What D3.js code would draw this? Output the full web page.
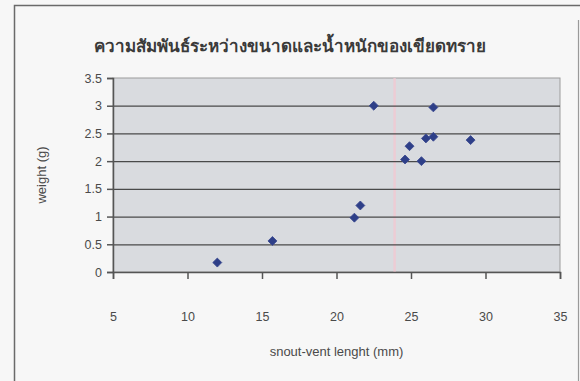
<!DOCTYPE html>
<html>
<head>
<meta charset="utf-8">
<script src="https://cdn.jsdelivr.net/npm/d3@7"></script>
<style>
html,body{margin:0;padding:0;background:#f7f7f7;}
svg{display:block;}
</style>
</head>
<body>
<svg id="chart" width="580" height="381"></svg>
<script>
const title = "ความสัมพันธ์ระหว่างขนาดและน้ำหนักของเขียดทราย";
const xLabel = "snout-vent lenght (mm)";
const yLabel = "weight (g)";
const xTicks = [5, 10, 15, 20, 25, 30, 35];
const yTicks = [0, 0.5, 1, 1.5, 2, 2.5, 3, 3.5];
const svl = [12.0, 15.7, 21.2, 21.6, 22.5, 24.6, 24.9, 25.7, 26.0, 26.5, 26.5, 29.0];
const weight = [0.17, 0.56, 0.98, 1.20, 3.0, 2.03, 2.27, 2.0, 2.41, 2.44, 2.97, 2.38];

const svg = d3.select("#chart");
const W = 580, H = 381;
const m = {left: 113, right: 20, top: 78, bottom: 109};
const x = d3.scaleLinear().domain([5, 35]).range([m.left, W - m.right]);
const y = d3.scaleLinear().domain([0, 3.5]).range([H - m.bottom, m.top]);

// outer frame
svg.append("rect").attr("x", 0).attr("y", 0).attr("width", W).attr("height", H).attr("fill", "#f7f7f7");
svg.append("path")
  .attr("d", `M14.5,${H}V5.5H${W}`)
  .attr("fill", "none").attr("stroke", "#6a6a6a").attr("stroke-width", 1.5);
svg.append("path")
  .attr("d", `M578.5,20V${H}`)
  .attr("fill", "none").attr("stroke", "#9a9a9a").attr("stroke-width", 1.2);

// plot area
svg.append("rect")
  .attr("x", x(5)).attr("y", y(3.5))
  .attr("width", x(35) - x(5)).attr("height", y(0) - y(3.5))
  .attr("fill", "#d9dbdf").attr("stroke", "#9c9c9c").attr("stroke-width", 1);

// scan artifact line
svg.append("line")
  .attr("x1", x(23.9)).attr("x2", x(23.9))
  .attr("y1", y(3.5)).attr("y2", y(0))
  .attr("stroke", "#f2c9d2").attr("stroke-width", 2.5).attr("opacity", 0.8);

// grid
svg.append("g").selectAll("line").data(yTicks.filter(d => d > 0 && d < 3.5)).join("line")
  .attr("x1", x(5)).attr("x2", x(35))
  .attr("y1", d => y(d) + 0.5).attr("y2", d => y(d) + 0.5)
  .attr("stroke", "#4a4a4a").attr("stroke-width", 1.3);

// axes
const yAxis = d3.axisLeft(y).tickValues(yTicks).tickSize(6).tickPadding(5).tickFormat(d3.format("~g"));
const gy = svg.append("g").attr("transform", `translate(${x(5)},0)`).call(yAxis);
const xAxis = d3.axisBottom(x).tickValues(xTicks).tickSize(7).tickPadding(33).tickFormat(d3.format("~g"));
const gx = svg.append("g").attr("transform", `translate(0,${y(0)})`).call(xAxis);
[gx, gy].forEach(g => {
  g.select(".domain").attr("stroke", "#555").attr("stroke-width", 1.5);
  g.selectAll(".tick line").attr("stroke", "#555").attr("stroke-width", 1.5);
  g.selectAll(".tick text").attr("fill", "#4a4a4a")
    .style("font-family", "'Liberation Sans', Arial, sans-serif").style("font-size", "12.5px");
});

// points (square rotated 45° = Excel diamond)
const diamond = d3.symbol().type(d3.symbolSquare).size(40);
svg.append("g").selectAll("path").data(svl.map((v, i) => [v, weight[i]])).join("path")
  .attr("transform", d => `translate(${x(d[0])},${y(d[1])}) rotate(45)`)
  .attr("d", diamond)
  .attr("fill", "#2e3f88").attr("stroke", "#3a4890").attr("stroke-width", 0.8);

// texts
svg.append("text").attr("x", 290).attr("y", 52).attr("text-anchor", "middle")
  .attr("fill", "#3a3a3a")
  .style("font-family", "'Noto Sans', 'DejaVu Sans', sans-serif").style("font-size", "17px").style("font-weight", "bold")
  .text(title);
svg.append("text").attr("x", (x(5) + x(35)) / 2).attr("y", 356).attr("text-anchor", "middle")
  .attr("fill", "#4a4a4a")
  .style("font-family", "'Liberation Sans', Arial, sans-serif").style("font-size", "13px")
  .text(xLabel);
svg.append("text").attr("transform", `translate(46,${(y(0) + y(3.5)) / 2}) rotate(-90)`)
  .attr("text-anchor", "middle").attr("fill", "#4a4a4a")
  .style("font-family", "'Liberation Sans', Arial, sans-serif").style("font-size", "13px")
  .text(yLabel);
</script>
</body>
</html>
